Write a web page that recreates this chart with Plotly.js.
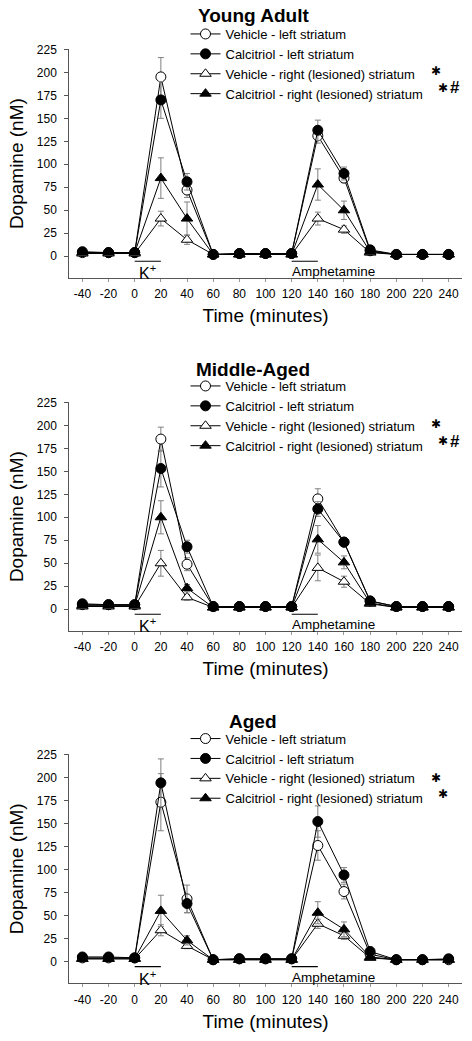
<!DOCTYPE html>
<html><head><meta charset="utf-8">
<script src="https://cdn.plot.ly/plotly-3.0.1.min.js"></script>
<style>html,body{margin:0;padding:0;background:#fff}</style>
</head><body><div id="chart" style="width:472px;height:1041px"></div>
<script>
// ---- data ----
var time = [-40,-20,0,20,40,60,80,100,120,140,160,180,200,220,240];
var seriesNames = ["Vehicle - left striatum","Calcitriol - left striatum","Vehicle - right (lesioned) striatum","Calcitriol - right (lesioned) striatum"];
var panelTitles = ["Young Adult","Middle-Aged","Aged"];
// significance marks for the two lesioned series (row 3 and row 4 of each legend)
var sigStars = [["\u2731","\u2731"],["\u2731","\u2731"],["\u2731","\u2731"]];
var sigHash = ["#","#",""];
var stimBars = [[0,20],[120,140]];
var stimLabels = ["K<sup>+</sup>","Amphetamine"];
var yTicks = [0,25,50,75,100,125,150,175,200,225];

// Young Adult
var ya_vehL = [4,4,4,195,72,2,3,3,3,131,85,6,2,2,2];
var ya_vehL_err = [1,1,1,21,8,1,1,1,1,8,5,2,1,1,1];
var ya_calL = [5,4,4,170,81,2,3,3,3,137,90,7,2,2,2];
var ya_calL_err = [1,1,1,20,9,1,1,1,1,11,7,2,1,1,1];
var ya_vehR = [3,3,3,41,18,2,2,2,2,41,29,4,2,2,2];
var ya_vehR_err = [1,1,1,8,5,1,1,1,1,7,4,1,1,1,1];
var ya_calR = [4,4,4,85,41,2,2,2,2,78,50,5,2,2,2];
var ya_calR_err = [1,1,1,22,18,1,1,1,1,17,10,1,1,1,1];

// Middle-Aged
var ma_vehL = [5,5,5,185,49,3,3,3,3,120,73,9,3,3,3];
var ma_vehL_err = [1,1,1,13,7,1,1,1,1,11,4,2,1,1,1];
var ma_calL = [6,5,5,153,68,3,3,3,3,109,73,9,3,3,3];
var ma_calL_err = [1,1,1,20,7,1,1,1,1,8,4,2,1,1,1];
var ma_vehR = [3,3,3,50,13,2,2,2,2,45,30,6,2,2,2];
var ma_vehR_err = [1,1,1,14,3,1,1,1,1,14,6,1,1,1,1];
var ma_calR = [4,4,4,100,23,2,2,2,2,76,51,7,2,2,2];
var ma_calR_err = [1,1,1,18,4,1,1,1,1,15,7,1,1,1,1];

// Aged
var ag_vehL = [4,4,4,173,68,2,3,3,3,126,76,8,2,2,2];
var ag_vehL_err = [1,1,1,31,15,1,1,1,1,16,8,2,1,1,1];
var ag_calL = [5,5,4,194,63,2,3,3,3,152,94,11,2,2,3];
var ag_calL_err = [1,1,1,26,10,1,1,1,1,17,8,2,1,1,1];
var ag_vehR = [3,3,3,34,17,2,2,2,2,41,28,4,2,2,2];
var ag_vehR_err = [1,1,1,6,3,1,1,1,1,5,4,1,1,1,1];
var ag_calR = [3,3,3,55,23,2,2,2,2,53,35,5,2,2,2];
var ag_calR_err = [1,1,1,17,5,1,1,1,1,12,8,1,1,1,1];

var panels = [
  [[ya_vehL,ya_vehL_err],[ya_calL,ya_calL_err],[ya_vehR,ya_vehR_err],[ya_calR,ya_calR_err]],
  [[ma_vehL,ma_vehL_err],[ma_calL,ma_calL_err],[ma_vehR,ma_vehR_err],[ma_calR,ma_calR_err]],
  [[ag_vehL,ag_vehL_err],[ag_calL,ag_calL_err],[ag_vehR,ag_vehR_err],[ag_calR,ag_calR_err]]
];

// ---- styling ----
var H = 1041, W = 472;
var FONT = "Arial, 'Liberation Sans', sans-serif";
var STARFONT = "'DejaVu Sans', sans-serif";
var fills = ["#ffffff","#000000","#ffffff","#000000"];
var symbolsDraw = ["circle","circle","triangle-up","triangle-up"];
// pixel layout of each panel: [plot top, plot bottom, title y]
var panelPx = [[49.3,278,16],[402.3,631,369.3],[754.3,983.3,721.7]];
var legendTopPx = [19,371,723.6];
// glyph centres of the significance marks [row3 y, row4 y]
var sigRowPx = [[71,87.5],[424,440.5],[777.5,794]];
var xDom = [69.3/W, 461.7/W];

var traces = [], shapes = [], annotations = [];
var layout = {
  width: W, height: H,
  margin: {l:0,r:0,t:0,b:0},
  paper_bgcolor: "#fff", plot_bgcolor: "#fff",
  font: {family: FONT, color: "#000"},
  showlegend: true
};

panels.forEach(function(panel, p){
  var sfx = p === 0 ? "" : String(p+1);
  var xa = "x"+sfx, ya = "y"+sfx;
  var px = panelPx[p];
  layout["xaxis"+sfx] = {
    domain: xDom, anchor: ya, range: [-50,250],
    tickmode: "array", tickvals: time, ticktext: time.map(String),
    ticks: "outside", ticklen: 3, tickcolor: "#999", tickwidth: 1,
    showline: true, linecolor: "#555", linewidth: 1,
    showgrid: false, zeroline: false,
    tickfont: {size: 12, family: FONT, color: "#000"},
    ticklabelstandoff: 2,
    title: {text: "Time (minutes)", font: {size: 19, family: FONT, color: "#000"}, standoff: 8}
  };
  layout["yaxis"+sfx] = {
    domain: [1 - px[1]/H, 1 - px[0]/H], anchor: xa, range: [-23.6,225],
    tickmode: "array", tickvals: yTicks,
    ticks: "outside", ticklen: 4, tickcolor: "#555", tickwidth: 1,
    showline: true, linecolor: "#555", linewidth: 1,
    showgrid: false, zeroline: false,
    tickfont: {size: 12, family: FONT, color: "#000"},
    ticklabelstandoff: 5,
    title: {text: "Dopamine (nM)", font: {size: 19, family: FONT, color: "#000"}, standoff: 8}
  };
  var legName = p === 0 ? "legend" : "legend"+(p+1);
  layout[legName] = {
    x: 185.5/W, xanchor: "left", y: 1 - legendTopPx[p]/H, yanchor: "top",
    bgcolor: "rgba(0,0,0,0)", borderwidth: 0,
    font: {size: 13, family: FONT, color: "#000"},
    traceorder: "normal"
  };
  panel.forEach(function(s, i){
    traces.push({
      type: "scatter", mode: "lines+markers",
      x: time, y: s[0], xaxis: xa, yaxis: ya,
      name: seriesNames[i], legend: legName,
      line: {color: "#000", width: 1},
      marker: {symbol: symbolsDraw[i], size: 10, color: fills[i], line: {color: "#000", width: 1}},
      error_y: {type: "data", array: s[1], visible: true, color: "#808080", thickness: 1, width: 3},
      hoverinfo: "skip"
    });
  });
  // stimulus bars & labels
  stimBars.forEach(function(b){
    shapes.push({type:"line", xref:xa, yref:ya, x0:b[0], x1:b[1], y0:-5.4, y1:-5.4, line:{color:"#000", width:1.2}});
  });
  annotations.push({xref:xa, yref:ya, x:(stimBars[0][0]+stimBars[0][1])/2 - 0.5, y:-17.5, text:stimLabels[0],
    showarrow:false, font:{size:16, family:FONT, color:"#000"}, xanchor:"center", yanchor:"middle"});
  annotations.push({xref:xa, yref:ya, x:stimBars[1][0]-1, y:-17, text:stimLabels[1],
    showarrow:false, font:{size:13.5, family:FONT, color:"#000"}, xanchor:"left", yanchor:"middle"});
  // panel title
  annotations.push({xref:"paper", yref:"paper", x:253/W, y:1 - px[2]/H, text:"<b>"+panelTitles[p]+"</b>",
    showarrow:false, font:{size:19, family:FONT, color:"#000"}, xanchor:"center", yanchor:"middle"});
  // significance marks
  var rows = sigRowPx[p];
  annotations.push({xref:"paper", yref:"paper", x:436/W, y:1 - rows[0]/H, text:sigStars[p][0],
    showarrow:false, borderpad:0, font:{size:12, family:STARFONT, color:"#000"}, xanchor:"center", yanchor:"middle"});
  annotations.push({xref:"paper", yref:"paper", x:442.5/W, y:1 - rows[1]/H, text:sigStars[p][1],
    showarrow:false, borderpad:0, font:{size:12, family:STARFONT, color:"#000"}, xanchor:"center", yanchor:"middle"});
  if (sigHash[p]) {
    annotations.push({xref:"paper", yref:"paper", x:454.5/W, y:1 - (rows[1]+0.5)/H, text:"<b>"+sigHash[p]+"</b>",
      showarrow:false, borderpad:0, font:{size:17, family:FONT, color:"#000"}, xanchor:"center", yanchor:"middle"});
  }
});
layout.shapes = shapes;
layout.annotations = annotations;

Plotly.newPlot("chart", traces, layout, {staticPlot: true, displayModeBar: false});
</script>
</body></html>
